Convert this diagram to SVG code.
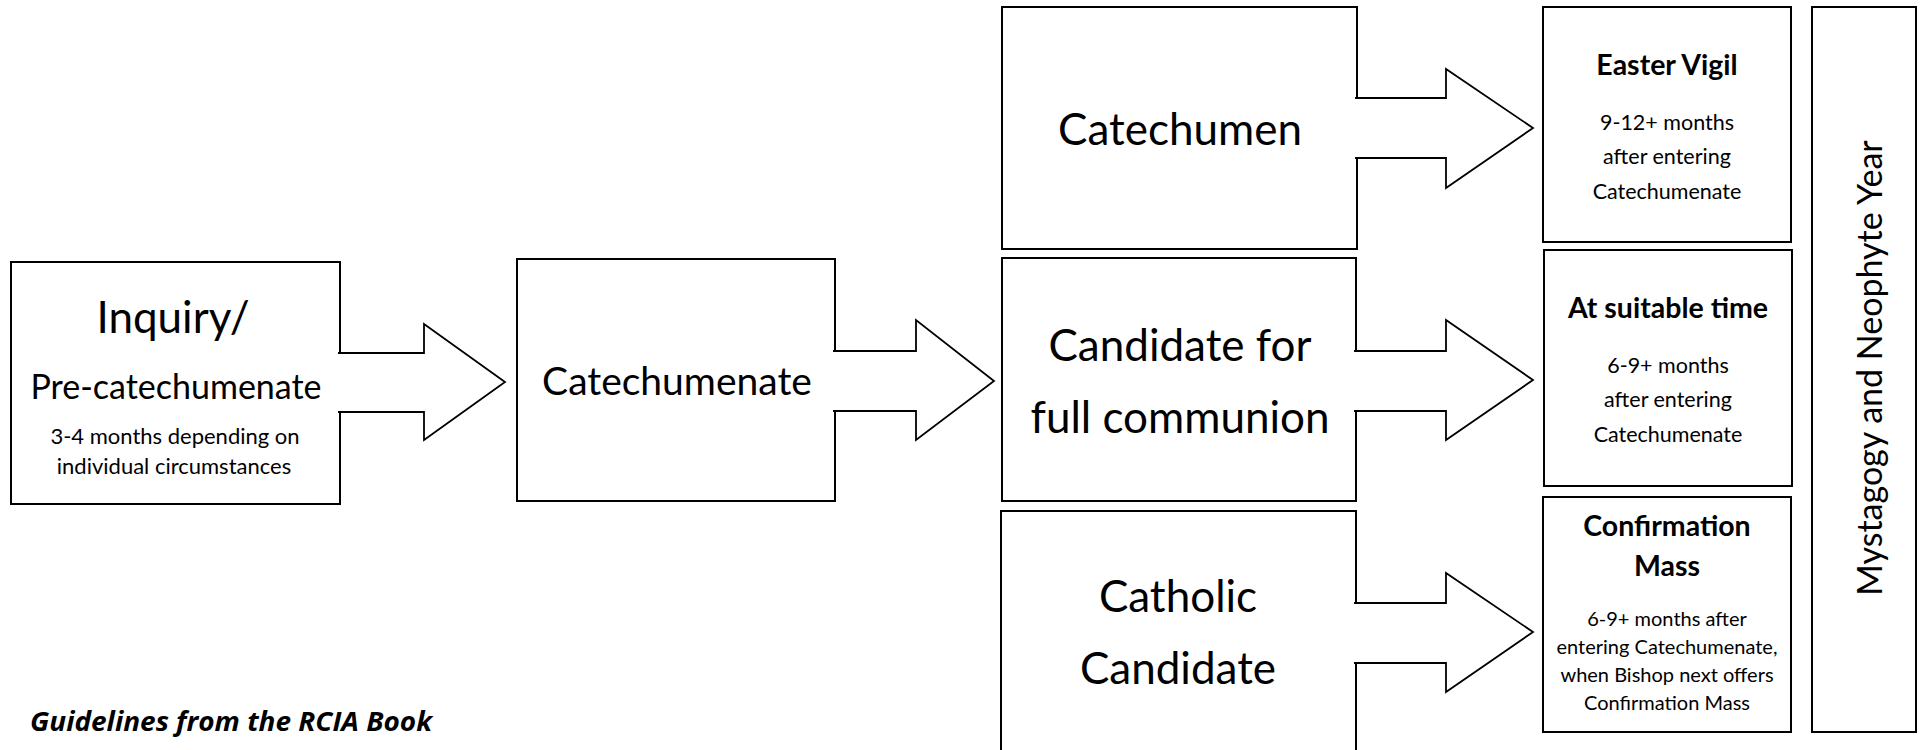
<svg xmlns="http://www.w3.org/2000/svg" width="1925" height="750" viewBox="0 0 1925 750">
<style>
.box{fill:#fff;stroke:#000;stroke-width:2}
.arr{fill:#fff;stroke:#000;stroke-width:1.8;stroke-linejoin:miter}
text{font-family:Lato,"Open Sans","Liberation Sans",sans-serif;fill:#000;text-anchor:middle}
.big{font-size:44px}
.mid{font-size:39px}
.pre{font-size:34px}
.sm{font-size:21.5px}
.sm1{font-size:22px}
.sm2{font-size:20px}
.ttl{font-size:28.5px;font-weight:bold}
.myst{font-size:34px}
.note{font-family:"Open Sans",Lato,sans-serif;font-size:26px;font-weight:bold;font-style:italic;text-anchor:start}
</style>
<rect width="1925" height="750" fill="#fff"/>
<g id="inquiry">
<rect class="box" x="11" y="262" width="329" height="242"/>
<text x="173" y="333" style="font-size:44px">Inquiry/</text>
<text x="176" y="399" class="pre">Pre-catechumenate</text>
<text x="175" y="444" class="sm1">3-4 months depending on</text>
<text x="174" y="474" class="sm1">individual circumstances</text>
</g>
<g id="catechumenate">
<rect class="box" x="517" y="259" width="318" height="242"/>
<text x="677" y="395" class="mid">Catechumenate</text>
</g>
<g id="catechumen">
<rect class="box" x="1002" y="7" width="355" height="242"/>
<text x="1180" y="145" class="big">Catechumen</text>
</g>
<g id="candidate">
<rect class="box" x="1002" y="258" width="354" height="243"/>
<text x="1180" y="361" class="big">Candidate for</text>
<text x="1180" y="433" class="big">full communion</text>
</g>
<g id="catholic">
<rect class="box" x="1001" y="511" width="355" height="260"/>
<text x="1178" y="612" class="big">Catholic</text>
<text x="1178" y="684" class="big">Candidate</text>
</g>
<g id="easter">
<rect class="box" x="1543" y="7" width="248" height="235"/>
<text x="1667" y="75" class="ttl">Easter Vigil</text>
<text x="1667" y="130" class="sm">9-12+ months</text>
<text x="1667" y="164" class="sm">after entering</text>
<text x="1667" y="199" class="sm">Catechumenate</text>
</g>
<g id="suitable">
<rect class="box" x="1544" y="250" width="248" height="236"/>
<text x="1668" y="318" class="ttl">At suitable time</text>
<text x="1668" y="373" class="sm">6-9+ months</text>
<text x="1668" y="407" class="sm">after entering</text>
<text x="1668" y="442" class="sm">Catechumenate</text>
</g>
<g id="confirmation">
<rect class="box" x="1543" y="497" width="248" height="235"/>
<text x="1667" y="536" class="ttl">Confirmation</text>
<text x="1667" y="576" class="ttl">Mass</text>
<text x="1667" y="626" class="sm2">6-9+ months after</text>
<text x="1667" y="654" class="sm2">entering Catechumenate,</text>
<text x="1667" y="682" class="sm2">when Bishop next offers</text>
<text x="1667" y="710" class="sm2">Confirmation Mass</text>
</g>
<g id="mystagogy">
<rect class="box" x="1812" y="7" width="104" height="725"/>
<text class="myst" transform="translate(1882,368) rotate(-90)">Mystagogy and Neophyte Year</text>
</g>
<g id="connectors">
<path class="arr" d="M338,353 H424 V324 L505,382 L424,440 V412 H338"/>
<path class="arr" d="M833,351 H916 V320 L994,381 L916,440 V411 H833"/>
<path class="arr" d="M1355,98 H1446 V69 L1533,128 L1446,188 V158 H1355"/>
<path class="arr" d="M1354,351 H1446 V320 L1533,380 L1446,440 V411 H1354"/>
<path class="arr" d="M1354,603 H1446 V573 L1533,632 L1446,692 V663 H1354"/>
</g>
<text x="30" y="731" class="note" textLength="402" lengthAdjust="spacingAndGlyphs">Guidelines from the RCIA Book</text>
</svg>
